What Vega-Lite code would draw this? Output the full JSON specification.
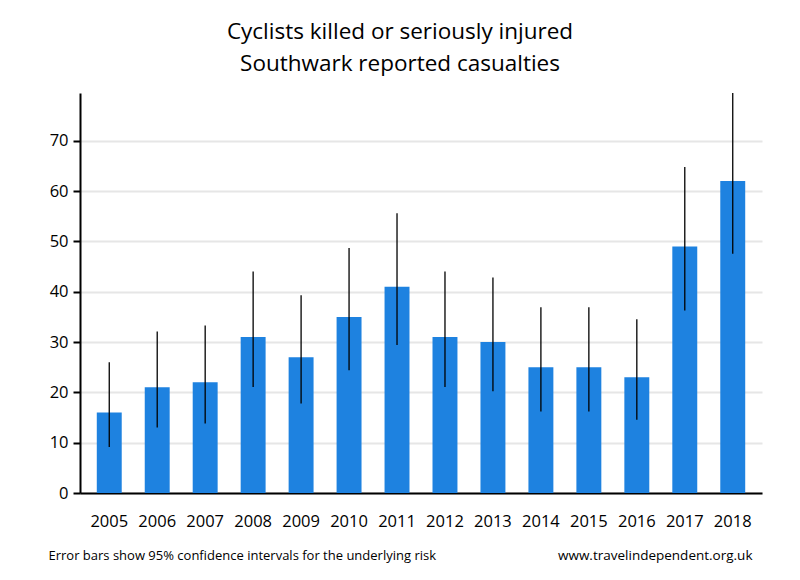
{
  "$schema": "https://vega.github.io/schema/vega-lite/v6.json",
  "width": 682,
  "height": 400,
  "autosize": {"type": "none"},
  "padding": {"left": 80, "top": 93, "right": 38, "bottom": 87},
  "background": "white",
  "config": {
    "font": "Open Sans",
    "view": {"stroke": null}
  },
  "title": {
    "text": ["Cyclists killed or seriously injured", "Southwark reported casualties"],
    "fontSize": 22.5,
    "fontWeight": "normal",
    "color": "black",
    "lineHeight": 32,
    "anchor": "middle",
    "frame": "group",
    "dx": -21,
    "offset": 17
  },
  "data": {
    "values": [
      {"year": "2005", "value": 16, "lo": 9.15, "hi": 25.98},
      {"year": "2006", "value": 21, "lo": 13.0, "hi": 32.1},
      {"year": "2007", "value": 22, "lo": 13.79, "hi": 33.31},
      {"year": "2008", "value": 31, "lo": 21.06, "hi": 44.0},
      {"year": "2009", "value": 27, "lo": 17.79, "hi": 39.28},
      {"year": "2010", "value": 35, "lo": 24.38, "hi": 48.68},
      {"year": "2011", "value": 41, "lo": 29.42, "hi": 55.62},
      {"year": "2012", "value": 31, "lo": 21.06, "hi": 44.0},
      {"year": "2013", "value": 30, "lo": 20.24, "hi": 42.83},
      {"year": "2014", "value": 25, "lo": 16.18, "hi": 36.9},
      {"year": "2015", "value": 25, "lo": 16.18, "hi": 36.9},
      {"year": "2016", "value": 23, "lo": 14.58, "hi": 34.51},
      {"year": "2017", "value": 49, "lo": 36.25, "hi": 64.78},
      {"year": "2018", "value": 62, "lo": 47.54, "hi": 79.48}
    ]
  },
  "encoding": {
    "x": {
      "field": "year",
      "type": "ordinal",
      "scale": {"paddingInner": 0.48, "paddingOuter": 0.35},
      "axis": {
        "title": "Error bars show 95% confidence intervals for the underlying risk",
        "titleFontSize": 13,
        "titleFontWeight": "normal",
        "titleColor": "black",
        "titleAnchor": "start",
        "titleAlign": "left",
        "titleBaseline": "alphabetic",
        "titleX": -32,
        "titleY": 66,
        "labelAngle": 0,
        "labelFontSize": 16.5,
        "labelColor": "black",
        "labelPadding": 20,
        "ticks": false,
        "domainColor": "black",
        "domainWidth": 2,
        "grid": false
      }
    }
  },
  "layer": [
    {
      "mark": {"type": "bar", "color": "#1e82e0"},
      "encoding": {
        "y": {
          "field": "value",
          "type": "quantitative",
          "scale": {"domain": [0, 79.5], "nice": false},
          "axis": {
            "title": "www.travelindependent.org.uk",
            "titleAngle": 0,
            "titleFontSize": 13.5,
            "titleFontWeight": "normal",
            "titleColor": "black",
            "titleAlign": "right",
            "titleAnchor": null,
            "titleBaseline": "alphabetic",
            "titleX": 672,
            "titleY": 466,
            "values": [0, 10, 20, 30, 40, 50, 60, 70],
            "labelFontSize": 16.5,
            "labelColor": "black",
            "labelPadding": 5,
            "tickSize": 7,
            "tickWidth": 2,
            "tickColor": "black",
            "domainColor": "black",
            "domainWidth": 2,
            "gridColor": "#e6e6e6",
            "gridWidth": 2
          }
        }
      }
    },
    {
      "mark": {"type": "rule", "color": "black", "strokeWidth": 1.3},
      "encoding": {
        "y": {"field": "lo", "type": "quantitative"},
        "y2": {"field": "hi"}
      }
    }
  ]
}
